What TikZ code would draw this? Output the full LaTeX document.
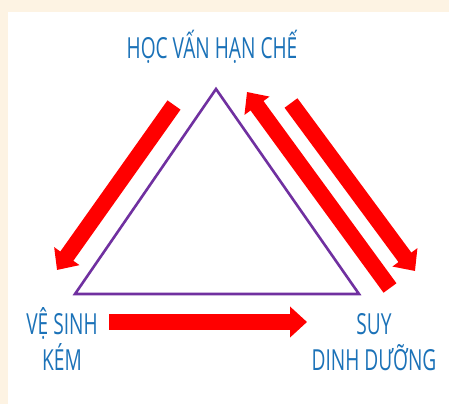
\documentclass[tikz,border=0pt]{standalone}
\usepackage{fontspec}
\setmainfont{Open Sans}[FakeStretch=0.66]
\usetikzlibrary{arrows.meta}
\definecolor{cream}{HTML}{FDF3E3}
\definecolor{labelblue}{HTML}{1B72B8}
\definecolor{triviolet}{HTML}{7030A0}
\tikzset{
  bigarrow/.style={draw=red, line width=16pt, -{Triangle[width=30pt,length=17pt]}},
  caption/.style={text=labelblue, font=\fontsize{29}{36}\selectfont, align=center, inner sep=0pt}
}
\begin{document}
\begin{tikzpicture}[x=1pt,y=-1pt]
    \useasboundingbox (0,0) rectangle (449,404);
    \fill[cream] (0,0) rectangle (449,404);
    \fill[white] (8,12) rectangle (449,404);
    % triangle
    \coordinate (apex) at (216,89);
    \coordinate (left) at (75,294);
    \coordinate (right) at (359,294);
    \draw[triviolet, line width=2.6pt, line join=miter] (apex) -- (left) -- (right) -- cycle;
    % labels
    \node[caption, anchor=base] (hoc) at (212,59) {HỌC VẤN HẠN CHẾ};
    \node[caption, anchor=base] (vesinh) at (62,370) {VỆ SINH\\KÉM};
    \node[caption, anchor=base] (suy) at (374,370) {SUY\\DINH DƯỠNG};
    % arrow ends
    \coordinate (a1) at (174,105);
    \coordinate (b1) at (57,270);
    \coordinate (a2) at (390,288);
    \coordinate (b2) at (247,92);
    \coordinate (a3) at (291,103);
    \coordinate (b3) at (415,271);
    \coordinate (a4) at (109,322);
    \coordinate (b4) at (307,322);
    \draw[bigarrow] (a1) -- (b1);
    \draw[bigarrow] (a2) -- (b2);
    \draw[bigarrow] (a3) -- (b3);
    \draw[bigarrow] (a4) -- (b4);
\end{tikzpicture}
\end{document}
